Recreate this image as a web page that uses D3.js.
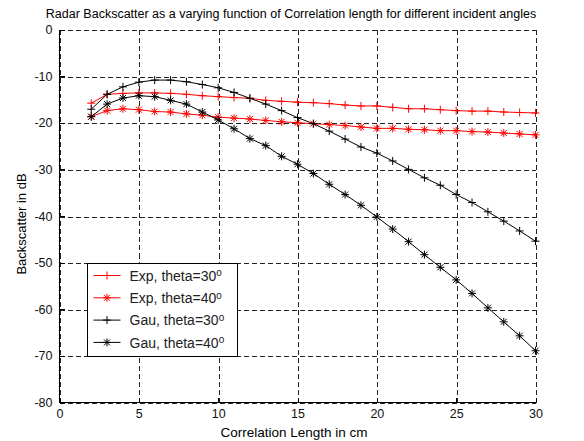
<!DOCTYPE html>
<meta charset="utf-8">
<style>
body { margin: 0; background: #fff; }
text { font-family: "Liberation Sans", Arial, sans-serif; }
.grid line { stroke: #222; stroke-dasharray: 5,3; shape-rendering: crispEdges; }
.axis path, .axis line { stroke: #000; shape-rendering: crispEdges; }
.axis text { font-size: 12.5px; fill: #111; }
</style>
<body>
<svg width="584" height="441"></svg>
<script src="https://cdn.jsdelivr.net/npm/d3@7"></script>
<script>

// correlation length (cm)
var lengths = [2,3,4,5,6,7,8,9,10,11,12,13,14,15,16,17,18,19,20,21,22,23,24,25,26,27,28,29,30];

// backscatter in dB
var exp30 = [-15.8,-13.9,-13.7,-13.6,-13.6,-13.7,-13.9,-14.2,-14.4,-14.6,-14.75,-15.2,-15.4,-15.6,-15.7,-15.9,-16.2,-16.4,-16.4,-16.7,-17.0,-17.0,-17.2,-17.4,-17.5,-17.5,-17.7,-17.8,-17.9];
var exp40 = [-18.7,-17.4,-17.0,-17.2,-17.6,-17.7,-18.1,-18.4,-18.8,-19.0,-19.2,-19.5,-19.8,-20.0,-20.2,-20.4,-20.6,-20.9,-21.2,-21.2,-21.4,-21.5,-21.7,-21.7,-21.9,-22.0,-22.2,-22.4,-22.6];
var gau30 = [-17.1,-13.9,-12.3,-11.3,-10.85,-10.85,-11.2,-11.8,-12.5,-13.5,-14.75,-16.0,-17.4,-18.9,-20.2,-21.8,-23.5,-25.2,-26.5,-28.2,-30.0,-31.8,-33.4,-35.4,-37.1,-39.1,-41.1,-43.2,-45.4];
var gau40 = [-18.7,-16.0,-14.7,-14.2,-14.4,-15.2,-16.0,-17.7,-19.4,-21.3,-23.4,-24.9,-27.2,-28.9,-30.9,-33.2,-35.4,-37.7,-40.2,-42.8,-45.5,-48.3,-51.0,-53.7,-56.6,-59.7,-62.7,-65.7,-68.9];

var xTicks = [0,5,10,15,20,25,30];
var yTicks = [0,-10,-20,-30,-40,-50,-60,-70,-80];

var series = [
  {name: "Exp, theta=30", values: exp30, color: "#ff0000", marker: "plus"},
  {name: "Exp, theta=40", values: exp40, color: "#ff0000", marker: "star"},
  {name: "Gau, theta=30", values: gau30, color: "#000000", marker: "plus"},
  {name: "Gau, theta=40", values: gau40, color: "#000000", marker: "star"}
];

var svg = d3.select("svg"),
    margin = {top: 29.5, right: 48.5, bottom: 38.5, left: 59.5},
    width = +svg.attr("width") - margin.left - margin.right,
    height = +svg.attr("height") - margin.top - margin.bottom,
    g = svg.append("g").attr("transform", "translate(" + margin.left + "," + margin.top + ")");

var x = d3.scaleLinear().domain([0, 30]).range([0, width]),
    y = d3.scaleLinear().domain([-80, 0]).range([height, 0]);

var markers = {
  plus: "M-4,0H4M0,-4V4",
  star: "M-4,0H4M0,-4V4M-3,-3L3,3M-3,3L3,-3"
};

// dashed grid
g.append("g").attr("class", "grid")
  .selectAll("line").data(xTicks).enter().append("line")
    .attr("x1", function(d) { return Math.round(x(d)) + 0.5; })
    .attr("x2", function(d) { return Math.round(x(d)) + 0.5; })
    .attr("y1", 0).attr("y2", height);
g.append("g").attr("class", "grid")
  .selectAll("line").data(yTicks).enter().append("line")
    .attr("y1", function(d) { return Math.round(y(d)) + 0.5; })
    .attr("y2", function(d) { return Math.round(y(d)) + 0.5; })
    .attr("x1", 0).attr("x2", width);

// axes (left and bottom only, ticks inward), plain hyphen minus
var fmt = function(d) { return String(d); };
g.append("g")
    .attr("class", "axis")
    .attr("transform", "translate(0," + height + ")")
    .call(d3.axisBottom(x).tickValues(xTicks).tickFormat(fmt).tickSizeInner(-5).tickSizeOuter(0).tickPadding(7))
  .select(".domain").remove();
g.append("g")
    .attr("class", "axis")
    .call(d3.axisLeft(y).tickValues(yTicks).tickFormat(fmt).tickSizeInner(-5).tickSizeOuter(0).tickPadding(7))
  .select(".domain").remove();
g.append("line").attr("x1", 0).attr("x2", 0).attr("y1", 0).attr("y2", height)
    .attr("stroke", "#000").attr("shape-rendering", "crispEdges");
g.append("line").attr("x1", 0).attr("x2", width).attr("y1", height).attr("y2", height)
    .attr("stroke", "#000").attr("shape-rendering", "crispEdges");

var line = d3.line()
    .x(function(d, i) { return x(lengths[i]); })
    .y(function(d) { return y(d); });

var s = g.selectAll(".series").data(series).enter().append("g").attr("class", "series");

s.append("path")
    .attr("fill", "none")
    .attr("stroke", function(d) { return d.color; })
    .attr("stroke-width", 1)
    .attr("d", function(d) { return line(d.values); });

s.each(function(sd) {
  d3.select(this).selectAll(".mk").data(sd.values).enter().append("path")
      .attr("class", "mk")
      .attr("transform", function(d, i) { return "translate(" + x(lengths[i]) + "," + y(d) + ")"; })
      .attr("d", markers[sd.marker])
      .attr("fill", "none")
      .attr("stroke", sd.color)
      .attr("stroke-width", 1);
});

// legend
var leg = svg.append("g").attr("transform", "translate(87.5,263.5)");
leg.append("rect").attr("width", 150).attr("height", 93)
    .attr("fill", "#fff").attr("stroke", "#000").attr("shape-rendering", "crispEdges");
var item = leg.selectAll(".item").data(series).enter().append("g")
    .attr("class", "item")
    .attr("transform", function(d, i) { return "translate(0," + (12 + i * 22.3) + ")"; });
item.append("line").attr("x1", 6).attr("x2", 33).attr("y1", 0).attr("y2", 0)
    .attr("stroke", function(d) { return d.color; });
item.append("path").attr("transform", "translate(19.5,0)")
    .attr("d", function(d) { return markers[d.marker]; })
    .attr("fill", "none").attr("stroke", function(d) { return d.color; });
var lt = item.append("text").attr("x", 42).attr("dy", "0.38em")
    .style("font-size", "14px").attr("fill", "#222");
lt.append("tspan").text(function(d) { return d.name; });
lt.append("tspan").attr("dy", "-0.45em").style("font-size", "10px").text("o");

// title and labels
svg.append("text").attr("x", 291).attr("y", 18).attr("text-anchor", "middle")
    .style("font-size", "12.5px").text("Radar Backscatter as a varying function of Correlation length for different incident angles");
svg.append("text").attr("x", 294).attr("y", 437).attr("text-anchor", "middle")
    .style("font-size", "13.5px").text("Correlation Length in cm");
svg.append("text").attr("transform", "translate(26,224) rotate(-90)")
    .attr("text-anchor", "middle")
    .style("font-size", "13px").text("Backscatter in dB");

</script>
</body>
